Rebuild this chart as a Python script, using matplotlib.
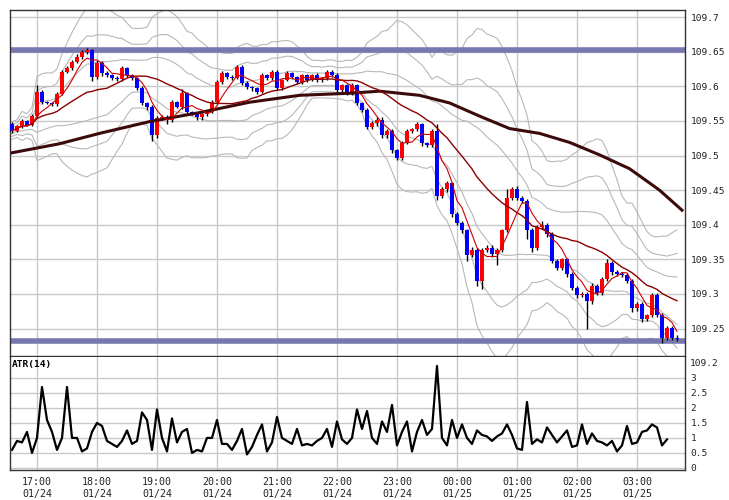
import numpy as np
import pandas as pd
import matplotlib
matplotlib.use("Agg")
import matplotlib.pyplot as plt

first_open = 109.545
closes = [109.536,109.542,109.550,109.544,109.557,109.592,109.577,109.576,109.574,109.589,
109.621,109.626,109.635,109.642,109.649,109.652,109.613,109.634,109.619,109.616,
109.612,109.610,109.626,109.616,109.612,109.597,109.576,109.570,109.529,109.554,
109.555,109.551,109.577,109.570,109.590,109.563,109.561,109.555,109.560,109.563,
109.577,109.606,109.619,109.613,109.612,109.628,109.605,109.599,109.597,109.592,
109.616,109.612,109.621,109.597,109.609,109.619,109.613,109.606,109.616,109.609,
109.616,109.609,109.612,109.621,109.616,109.594,109.602,109.590,109.602,109.576,
109.566,109.541,109.547,109.552,109.529,109.536,109.508,109.497,109.518,109.536,
109.538,109.545,109.518,109.515,109.536,109.442,109.452,109.460,109.416,109.403,
109.392,109.356,109.364,109.319,109.364,109.367,109.357,109.363,109.392,109.439,
109.452,109.439,109.435,109.392,109.366,109.397,109.400,109.386,109.348,109.338,
109.350,109.329,109.309,109.298,109.300,109.290,109.312,109.302,109.322,109.345,
109.331,109.329,109.328,109.319,109.279,109.286,109.264,109.269,109.299,109.269,
109.237,109.251,109.237,109.235]
upper_wick = [3,2,3,2,3,10,3,2,2,3, 3,3,3,4,3,3,2,4,3,3, 2,3,3,2,2,2,3,2,3,3,
 3,3,3,2,6,2,2,2,2,3, 3,3,3,2,3,3,3,2,2,2, 3,2,3,3,2,3,2,2,2,2,
 2,3,2,3,2,3,2,2,3,2, 2,2,3,3,3,2,2,2,3,3, 2,3,2,2,3,10,3,3,2,2,
 3,2,4,3,2,3,3,3,2,12, 3,4,3,2,3,3,6,2,3,3, 2,2,3,2,3,3,4,3,3,6,
 3,3,2,2,2,3,3,2,3,3, 3,3,3,3]
lower_wick = [3,2,2,2,2,3,3,2,3,2, 2,2,2,2,2,2,5,2,4,3, 3,3,2,3,3,2,3,4,8,3,
 3,5,3,2,3,3,3,3,3,3, 2,2,2,3,3,2,3,3,4,3, 2,3,3,3,3,2,3,3,2,3,
 2,3,3,3,3,4,3,2,3,3, 3,3,3,4,3,3,5,3,3,2, 3,3,4,3,2,6,3,4,5,4,
 4,8,3,8,12,3,3,15,3,3, 3,3,4,13,6,3,3,4,4,3, 3,4,3,4,3,40,4,3,3,4,
 3,3,3,3,5,3,4,3,3,3, 8,4,4,3]
long_ma_pos = [0,9.5,17.5,27.5,37.5,47.5,57.5,67.5,73.5,81.5,87.5,93.5,99.5,105.5,111.5,117.5,123.5,129.5,134]
long_ma_val = [109.504,109.517,109.532,109.549,109.562,109.577,109.587,109.590,109.593,109.587,
 109.576,109.557,109.539,109.532,109.519,109.501,109.481,109.450,109.421]
atr = [0.6,0.9,0.85,1.2,0.5,1.0,2.7,1.6,1.2,0.6,1.0,2.7,1.0,1.0,0.55,0.65,1.2,1.5,1.4,0.9,
 0.8,0.7,0.9,1.25,0.8,0.9,1.85,1.6,0.6,1.95,1.0,0.55,1.65,0.85,1.2,1.3,0.5,0.6,0.55,1.0,
 1.0,1.6,0.8,0.8,0.6,0.9,1.3,0.45,0.7,1.1,1.45,0.55,0.85,1.7,1.0,0.9,0.8,1.3,0.75,0.8,
 0.75,0.9,1.0,1.3,0.7,1.55,0.95,0.8,1.0,1.95,1.3,1.9,1.0,0.8,1.55,1.2,2.1,0.75,1.2,1.55,
 0.55,1.2,1.6,1.1,1.3,3.4,1.0,0.75,1.6,1.0,1.45,1.0,0.8,1.25,1.1,1.05,0.9,1.05,1.15,1.45,
 1.1,0.65,0.6,2.2,0.8,0.95,0.85,1.35,1.1,0.85,1.05,1.25,0.7,0.75,1.45,0.8,1.15,0.9,0.85,0.75,
 0.9,0.55,0.75,1.4,0.8,0.85,1.2,1.25,1.45,1.35,0.75,0.95]
hline_hi = 109.653
hline_lo = 109.232
tick_labels = ["17:00\n01/24","18:00\n01/24","19:00\n01/24","20:00\n01/24","21:00\n01/24",
 "22:00\n01/24","23:00\n01/24","00:00\n01/25","01:00\n01/25","02:00\n01/25","03:00\n01/25"]

n = len(closes)
c = np.array(closes)
o = np.concatenate([[first_open], c[:-1]])
hi = np.maximum(o, c) + np.array(upper_wick) * 0.001
lo = np.minimum(o, c) - np.array(lower_wick) * 0.001
x = np.arange(n)

s = pd.Series(c)
ma_s = s.rolling(5, min_periods=1).mean()
ma_m = s.rolling(20, min_periods=1).mean()
sd = s.rolling(20, min_periods=2).std().bfill()

W, H = 729, 500
fig = plt.figure(figsize=(7.29, 5.0), dpi=100)
L, R = 10 / W, 685 / W
ax = fig.add_axes([L, 1 - 356 / H, R - L, 346 / H])
ax2 = fig.add_axes([L, 1 - 470 / H, R - L, 113 / H])
mono = "DejaVu Sans Mono"
fs = 6.8

gc = "#c8c8c8"
for a in (ax, ax2):
    a.set_xlim(-0.4, n + 0.6)
    a.set_xticks([5 + 12 * k for k in range(len(tick_labels))])
    a.grid(True, color=gc, lw=1)
    a.set_axisbelow(True)
    a.yaxis.tick_right()
    a.tick_params(length=0, labelsize=fs, colors="#222222", pad=4)
    for sp in a.spines.values():
        sp.set_color("#333333")
        sp.set_linewidth(1)
ax2.spines["top"].set_visible(False)

ax.set_ylim(109.2103, 109.7103)
ax.set_yticks([109.25, 109.3, 109.35, 109.4, 109.45, 109.5, 109.55, 109.6, 109.65, 109.7])
ax.set_yticklabels(["109.25","109.3","109.35","109.4","109.45","109.5","109.55","109.6","109.65","109.7"],
                   family=mono, fontsize=fs)
ax.set_xticklabels([])
fig.text(R + 5 / W, 1 - 363 / H, "109.2", fontsize=fs, family=mono, va="center", color="#222222")

for k in (1, 2, 3):
    ax.plot(x, ma_m + k * sd, color="#b8b8b8", lw=0.8, zorder=1)
    ax.plot(x, ma_m - k * sd, color="#b8b8b8", lw=0.8, zorder=1)

ax.axhline(hline_hi, color="#7878b0", lw=4, zorder=2)
ax.axhline(hline_lo, color="#7878b0", lw=4, zorder=2)

ax.vlines(x, lo, hi, color="black", lw=1, zorder=3)
cols = np.where(c >= o, "#ff0000", "#0000ff")
ax.bar(x, np.maximum(np.abs(c - o), 0.0012), bottom=np.minimum(o, c), width=0.8, color=cols, zorder=4, linewidth=0)

ax.plot(long_ma_pos, long_ma_val, color="#3c0a0a", lw=2.2, zorder=5)
ax.plot(x, ma_m, color="#8b0000", lw=1, zorder=5)
ax.plot(x, ma_s, color="#cc0000", lw=0.8, zorder=5)

ax2.plot(np.arange(len(atr)), atr, color="black", lw=1.6)
ax2.set_ylim(-0.07, 3.7)
ax2.set_yticks([0, 0.5, 1, 1.5, 2, 2.5, 3])
ax2.set_yticklabels(["0","0.5","1","1.5","2","2.5","3"], family=mono, fontsize=fs)
ax2.set_xticklabels(tick_labels, family=mono, fontsize=7.2)
ax2.tick_params(axis="x", pad=5)
ax2.text(0.003, 0.97, "ATR(14)", transform=ax2.transAxes, fontsize=fs, family=mono,
         fontweight="bold", va="top", ha="left")

fig.savefig("out.png", dpi=100, facecolor="white")
